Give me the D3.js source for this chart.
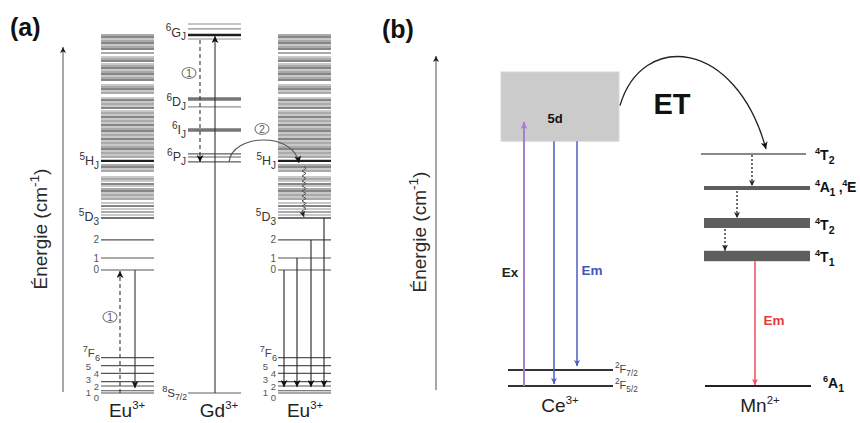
<!DOCTYPE html>
<html><head><meta charset="utf-8">
<script src="https://cdn.jsdelivr.net/npm/d3@7"></script>
<style>body{margin:0;background:#fff} svg{display:block;font-family:"Liberation Sans",Arial,sans-serif}</style>
</head><body><svg id="c" width="860" height="423"></svg>
<script>
// ---------- DATA (energies in 10^3 cm^-1) ----------
// Panel (a)
const euBandEnergy = [50.58,50.30,50.01,49.73,49.45,49.17,48.88,48.60,48.04,47.47,47.19,46.90,46.48,46.20,45.92,45.63,45.35,45.07,44.79,44.50,44.22,43.51,43.23,42.95,42.67,42.38,41.68,41.40,41.11,40.83,40.55,40.26,39.84,39.56,39.28,38.99,38.71,38.43,38.15,37.86,37.58,37.30,37.02,36.73,36.45,36.17,35.89,35.60,35.32,35.04,34.75,34.47,34.19,33.91,33.62,33.34,32.78,32.21,31.93,31.65,31.36,30.52,30.23,29.95,29.53,29.24,28.82,28.54,28.26,27.97,27.69,27.41,26.84,26.42,26.00,25.57,25.15];
const euBandIntensity = [2,3,1,2,3,1,2,3,2,1,2,3,1,2,3,1,2,3,1,2,3,1,2,3,1,2,1,3,1,2,1,3,1,2,1,3,1,2,1,3,1,2,3,1,2,1,3,1,2,1,2,3,1,2,1,2,4,2,3,1,2,1,2,1,3,1,2,3,1,2,1,2,1,3,1,2,1];
const eu5H = 32.78;
const eu5D3 = 24.72;
const eu5DLevels = [17.38, 19.07, 21.62];
const eu5DLabels = ["0", "1", "2"];
const eu7FLevels = [0, 0.32, 0.99, 1.60, 2.78, 3.86, 4.99];
const eu7FLabels = ["0", "1", "2", "3", "4", "5", "6"];
const gdLevels = [52.13, 51.43, 50.58, 50.01, 41.54, 40.41, 37.16, 33.77, 33.34, 32.64, 0];
const gdIntensity = [2, 2, 4, 2, 2.5, 2, 2.5, 3, 3, 3, 3];
const gdTerms = [["6","G",50.9],["6","D",41.1],["6","I",37.16],["6","P",33.3]];
// Panel (b)
const ceLevels = [0, 2.0];
const ceLabels = [["2","F","5/2"],["2","F","7/2"]];
const ce5d = [30.6, 39.25];
const ceExTop = 33.0;
const mnLevels = [
  {term:["6","A","1"], lo:0, hi:0},
  {term:["4","T","1"], lo:15.6, hi:16.9},
  {term:["4","T","2"], lo:19.75, hi:21.0},
  {term:["4","A","1"], lo:24.5, hi:25.0},
  {term:["4","T","2"], lo:29.0, hi:29.0}
];

// ---------- SETUP ----------
const svg = d3.select("#c");
svg.append("rect").attr("width",860).attr("height",423).attr("fill","#fff");
const defs = svg.append("defs");
function marker(id, color, len, wid){
  defs.append("marker").attr("id",id).attr("viewBox","0 0 10 10").attr("refX",10).attr("refY",5)
    .attr("markerWidth",len).attr("markerHeight",wid).attr("markerUnits","userSpaceOnUse").attr("orient","auto")
    .append("path").attr("d","M0,0L10,5L0,10L2.5,5Z").attr("fill",color);
}
marker("mk","#111",8,7);
marker("mkSmall","#222",6,6);
marker("mkPurple","#a67fcf",8,7);
marker("mkBlue","#4a5cc4",7,6);
marker("mkRed","#ee4b5a",7,6);

function rich(sel, x, y, parts, size, anchor, fill, weight){
  const t = sel.append("text").attr("x",x).attr("y",y).attr("font-size",size)
    .attr("text-anchor",anchor||"start").attr("fill",fill||"#333").attr("font-weight",weight||"normal");
  let shift = 0;
  parts.forEach(p => {
    const kind = p[1];
    const target = kind==="sup" ? -size*0.42 : kind==="sub" ? size*0.3 : 0;
    const ts = t.append("tspan").text(p[0]).attr("dy", target - shift);
    if (kind) ts.attr("font-size", size*(p[2]||0.72));
    shift = target;
  });
  return t;
}
function line(sel, x1,y1,x2,y2, color, w, extra){
  const l = sel.append("line").attr("x1",x1).attr("y1",y1).attr("x2",x2).attr("y2",y2)
    .attr("stroke",color).attr("stroke-width",w);
  if (extra) Object.entries(extra).forEach(([k,v])=>l.attr(k,v));
  return l;
}
function circleLabel(sel, x, y, s){
  sel.append("ellipse").attr("cx",x).attr("cy",y).attr("rx",7).attr("ry",5.5)
    .attr("fill","#fff").attr("stroke","#777").attr("stroke-width",1.1);
  sel.append("text").attr("x",x).attr("y",y+3.5).attr("font-size",10).attr("text-anchor","middle").attr("fill","#555").text(s);
}
const shade = d3.scaleLinear().domain([1,2,3,4]).range(["#b6b6b6","#8e8e8e","#5e5e5e","#1e1e1e"]);

// ---------- PANEL (a) ----------
const yA = d3.scaleLinear().domain([0, 51]).range([393, 32]);
const gA = svg.append("g");
rich(gA, 10, 36, [["(a)"]], 25, "start", "#111", "bold");
line(gA, 63, 392, 63, 47, "#777", 1.3, {"marker-end":"url(#mkSmall)"});
rich(gA.append("g").attr("transform","translate(47,229) rotate(-90)"), 0, 0,
  [["Énergie (cm"],["-1","sup"],[")"]], 19, "middle", "#2a2a2a");

function euColumn(x0){
  const w = 53;
  const g = gA.append("g");
  g.selectAll(".band").data(euBandEnergy).join("line")
    .attr("x1",x0).attr("x2",x0+w).attr("y1",d=>yA(d)).attr("y2",d=>yA(d))
    .attr("stroke",(d,i)=>shade(euBandIntensity[i])).attr("stroke-width",(d,i)=>euBandIntensity[i]===4?2.2:1.6);
  line(g, x0, yA(eu5D3), x0+w, yA(eu5D3), "#444", 1.6);
  eu5DLevels.forEach((e,i)=>{
    line(g, x0, yA(e), x0+w, yA(e), "#555", 1.2);
    rich(g, x0-2, yA(e)+3.5, [[eu5DLabels[i]]], 10, "end", "#555");
  });
  eu7FLevels.forEach((e)=>{ line(g, x0, yA(e), x0+w, yA(e), "#555", 1.2); });
  const lblOff = [4, 1.5, 1, -2.5, 0, 0.8, 0];
  eu7FLevels.forEach((e,i)=>{
    if (i===6) rich(g, x0-1, yA(e)-0.5, [["7","sup",0.8],["F"],[eu7FLabels[i],"sub",0.8]], 11.5, "end", "#444");
    else rich(g, x0 - (i%2===0 ? 2 : 10), yA(e)+lblOff[i]+3.5, [[eu7FLabels[i]]], 9.5, "end", "#555");
  });
  rich(g, x0-2, yA(eu5H)+4, [["5","sup",0.8],["H"],["J","sub",0.8]], 12.5, "end", "#333");
  rich(g, x0-2, yA(eu5D3)+3, [["5","sup",0.8],["D"],["3","sub",0.8]], 12.5, "end", "#333");
  return g;
}
// Eu (left)
const euL = euColumn(101);
line(euL, 120, yA(0), 120, yA(eu5DLevels[0])+1, "#333", 1.1, {"stroke-dasharray":"4,3","marker-end":"url(#mk)"});
line(euL, 135, yA(eu5DLevels[0]), 135, yA(eu7FLevels[2])+2, "#333", 1.1, {"marker-end":"url(#mk)"});
circleLabel(euL, 110, 317, "1");
rich(gA, 127, 417, [["Eu"],["3+","sup",0.6]], 19, "middle", "#222");

// Gd
const gd = gA.append("g");
gdLevels.forEach((e,i)=>{
  line(gd, 188, yA(e), 241, yA(e), shade(gdIntensity[i]), gdIntensity[i]===4?2.4:(gdIntensity[i]===2.5?3.5:1.2));
});
gdTerms.forEach(t=>{
  rich(gd, 186, yA(t[2])+4, [[t[0],"sup",0.8],[t[1]],["J","sub",0.8]], 12.5, "end", "#333");
});
rich(gd, 187, yA(0)+4, [["8","sup",0.8],["S"],["7/2","sub",0.75]], 11.5, "end", "#333");
line(gd, 200, yA(gdLevels[3])+1, 200, yA(gdLevels[9]), "#333", 1.1, {"stroke-dasharray":"4,3","marker-end":"url(#mk)"});
line(gd, 215, yA(0), 215, yA(gdLevels[2])+1, "#333", 1.1, {"marker-end":"url(#mk)"});
circleLabel(gd, 189, 73, "1");
rich(gA, 219, 417, [["Gd"],["3+","sup",0.6]], 19, "middle", "#222");

// Eu (right)
const euR = euColumn(278);
const xs = [284, 297, 311, 324];
[eu5DLevels[0], eu5DLevels[1], eu5DLevels[2], eu5D3].forEach((e,i)=>{
  line(euR, xs[i], yA(e), xs[i], yA(eu7FLevels[2])+1, "#222", 1.1, {"marker-end":"url(#mk)"});
});
// curved transfer arrow (2)
const p0 = [229, yA(gdLevels[9])], p1 = [299, yA(eu5H)+2];
euR.append("path").attr("d",`M${p0[0]},${p0[1]} C${p0[0]+3},${p0[1]-28} ${p1[0]-6},${p1[1]-32} ${p1[0]},${p1[1]}`)
  .attr("fill","none").attr("stroke","#555").attr("stroke-width",1.1).attr("marker-end","url(#mk)");
circleLabel(euR, 262, 129, "2");
// wavy relaxation arrow
{
  const ya = yA(eu5H)+5, yb = yA(eu5D3)-1;
  let d = `M304,${ya}`; let k = 0;
  for (let y = ya+2.5; y < yb-4; y += 2.5) { d += ` L${304 + (k%2===0?2:-2)},${y}`; k++; }
  d += ` L304,${yb}`;
  euR.append("path").attr("d",d).attr("fill","none").attr("stroke","#555").attr("stroke-width",1).attr("marker-end","url(#mkSmall)");
}
rich(gA, 305, 417, [["Eu"],["3+","sup",0.6]], 19, "middle", "#222");

// ---------- PANEL (b) ----------
const yB = d3.scaleLinear().domain([0, 40]).range([386, 66]);
const gB = svg.append("g");
rich(gB, 382, 38, [["(b)"]], 25, "start", "#111", "bold");
line(gB, 436, 390, 436, 56, "#777", 1.3, {"marker-end":"url(#mkSmall)"});
rich(gB.append("g").attr("transform","translate(426,232) rotate(-90)"), 0, 0,
  [["Énergie (cm"],["-1","sup"],[")"]], 19, "middle", "#2a2a2a");

// Ce3+
gB.append("rect").attr("x",501).attr("y",yB(ce5d[1])).attr("width",118).attr("height",yB(ce5d[0])-yB(ce5d[1]))
  .attr("fill","#cbcbcb").attr("stroke","#d8d8d8");
rich(gB, 555, 123, [["5d"]], 13, "middle", "#111", "bold");
ceLevels.forEach((e,i)=>{
  line(gB, 508, yB(e), 613, yB(e), "#333", 2);
  rich(gB, 615, yB(e)+3, [[ceLabels[i][0],"sup",0.75],[ceLabels[i][1]],[ceLabels[i][2],"sub",0.75]], 11, "start", "#444");
});
line(gB, 524, yB(0), 524, yB(ceExTop), "#a67fcf", 2, {"marker-end":"url(#mkPurple)"});
line(gB, 554, yB(ce5d[0]), 554, yB(0)-2, "#4a5cc4", 1.5, {"marker-end":"url(#mkBlue)"});
line(gB, 577, yB(ce5d[0]), 577, yB(ceLevels[1])-4, "#4a5cc4", 1.5, {"marker-end":"url(#mkBlue)"});
rich(gB, 510, 277, [["Ex"]], 13.5, "middle", "#222", "bold");
rich(gB, 592, 275, [["Em"]], 13.5, "middle", "#4458b8", "bold");
rich(gB, 560, 412, [["Ce"],["3+","sup",0.6]], 19, "middle", "#222");

// Mn2+
mnLevels.forEach((m,i)=>{
  if (m.hi - m.lo < 0.01) {
    const top = i===4;
    line(gB, top?701:705, yB(m.lo), top?806:811, yB(m.lo), top?"#8a8a8a":"#222", top?1.8:2);
  } else {
    gB.append("rect").attr("x",704).attr("width",106).attr("y",yB(m.hi)).attr("height",yB(m.lo)-yB(m.hi))
      .attr("fill","#5e5e5e");
  }
});
const lblY = [388, 262, 230, 192, 160];
mnLevels.forEach((m,i)=>{
  const x = i===0 ? 823 : 815;
  const parts = [[m.term[0],"sup",0.65],[m.term[1]],[m.term[2],"sub",0.75]];
  if (i===3) parts.push([" ,"],["4","sup",0.65],["E"]);
  const t = rich(gB, x, lblY[i], parts, 14, "start", "#111", "bold");
  if (i===3) t.attr("letter-spacing", -0.3);
});
// dotted relaxation arrows
line(gB, 752, yB(29.0)+1, 752, yB(25.0), "#222", 1.3, {"stroke-dasharray":"2,2","marker-end":"url(#mkSmall)"});
line(gB, 737, yB(24.5)+1, 737, yB(21.0), "#222", 1.3, {"stroke-dasharray":"2,2","marker-end":"url(#mkSmall)"});
line(gB, 725, yB(19.75)+1, 725, yB(16.9), "#222", 1.3, {"stroke-dasharray":"2,2","marker-end":"url(#mkSmall)"});
// red emission
line(gB, 755, yB(15.6), 755, yB(0)-1, "#ee4b5a", 1.5, {"marker-end":"url(#mkRed)"});
rich(gB, 774, 325, [["Em"]], 13.5, "middle", "#e83a3a", "bold");
rich(gB, 760, 412, [["Mn"],["2+","sup",0.6]], 19, "middle", "#222");

// ET
const s0 = [620, (yB(ce5d[0])+yB(ce5d[1]))/2 - 1], s1 = [766, yB(29.0)-5];
gB.append("path").attr("d",`M${s0[0]},${s0[1]} C${s0[0]+22},${s0[1]-75} ${s1[0]-30},${s1[1]-110} ${s1[0]},${s1[1]}`)
  .attr("fill","none").attr("stroke","#222").attr("stroke-width",1.3).attr("marker-end","url(#mk)");
rich(gB, 672, 114, [["ET"]], 29, "middle", "#111", "bold");
</script></body></html>
